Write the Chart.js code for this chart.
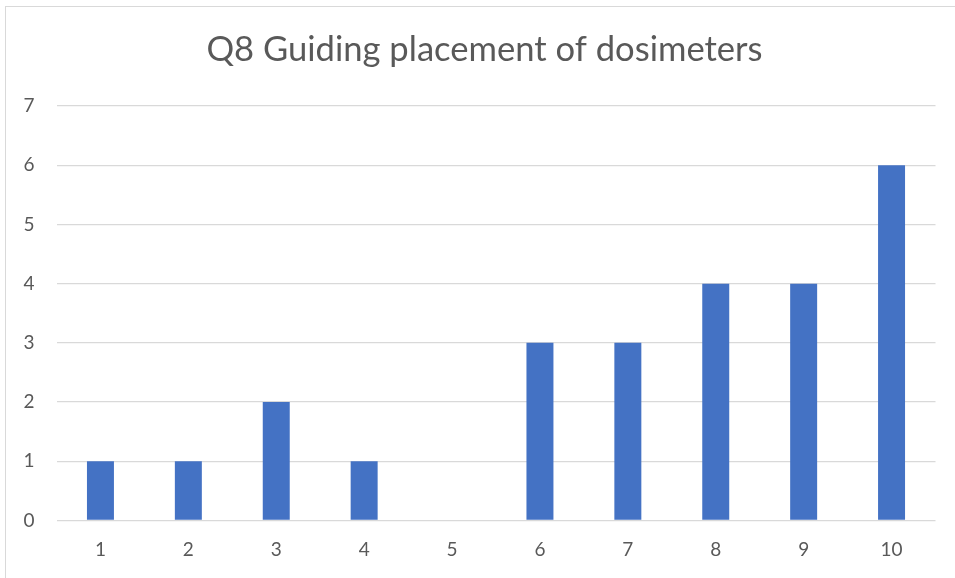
<!DOCTYPE html>
<html>
<head>
<meta charset="utf-8">
<script src="https://cdn.jsdelivr.net/npm/chart.js@4.4.0/dist/chart.umd.min.js"></script>
<style>
  html, body { margin: 0; padding: 0; background: #fff; }
  #wrap { position: relative; width: 955px; height: 578px; overflow: hidden; }
  #frame { position: absolute; left: 5px; top: 6px; width: 1000px; height: 700px; border: 1px solid #d9d9d9; box-sizing: border-box; }
  #chart { position: absolute; left: 0; top: 0; }
</style>
</head>
<body>
<div id="wrap">
  <div id="frame"></div>
  <canvas id="chart" width="955" height="578"></canvas>
</div>
<script>
const categories = ["1", "2", "3", "4", "5", "6", "7", "8", "9", "10"];
const counts = [1, 1, 2, 1, 0, 3, 3, 4, 4, 6];
const yTicks = [0, 1, 2, 3, 4, 5, 6, 7];

const textColor = "#595959";
const fontFamily = "Lato, 'Open Sans', sans-serif";

const ctx = document.querySelector("#chart").getContext("2d");

// nudge the title so it sits centred like in the reference
const shiftTitle = {
  id: "shiftTitle",
  afterLayout: (chart) => {
    if (chart.titleBlock) chart.titleBlock.left += 19.5;
  },
};

new Chart(ctx, {
  type: "bar",
  data: {
    labels: categories,
    datasets: [
      {
        label: "Q8",
        data: counts,
        backgroundColor: "#4472C4",
        barPercentage: 1,
        categoryPercentage: 0.307,
      },
    ],
  },
  options: {
    responsive: false,
    animation: false,
    layout: { padding: { left: 14, right: 19.5, top: 0, bottom: 0 } },
    plugins: {
      legend: { display: false },
      tooltip: { enabled: false },
      title: {
        display: true,
        text: "Q8 Guiding placement of dosimeters",
        color: textColor,
        font: { family: fontFamily, size: 34.6, weight: "normal" },
        padding: { top: 29.5, bottom: 35 },
      },
    },
    scales: {
      x: {
        grid: { display: false, drawTicks: false },
        border: { display: false },
        ticks: {
          color: textColor,
          font: { family: fontFamily, size: 19 },
          padding: 18,
        },
        afterFit: (scale) => {
          scale.height = 57.5;
        },
      },
      y: {
        min: 0,
        max: 7,
        afterBuildTicks: (scale) => {
          scale.ticks = yTicks.map((v) => ({ value: v }));
        },
        grid: { color: "#d9d9d9", lineWidth: 1.3, drawTicks: false },
        border: { display: false },
        ticks: {
          color: textColor,
          font: { family: fontFamily, size: 19 },
          padding: 22,
        },
        afterFit: (scale) => {
          scale.width = 42.5;
        },
      },
    },
  },
  plugins: [shiftTitle],
});
</script>
</body>
</html>
